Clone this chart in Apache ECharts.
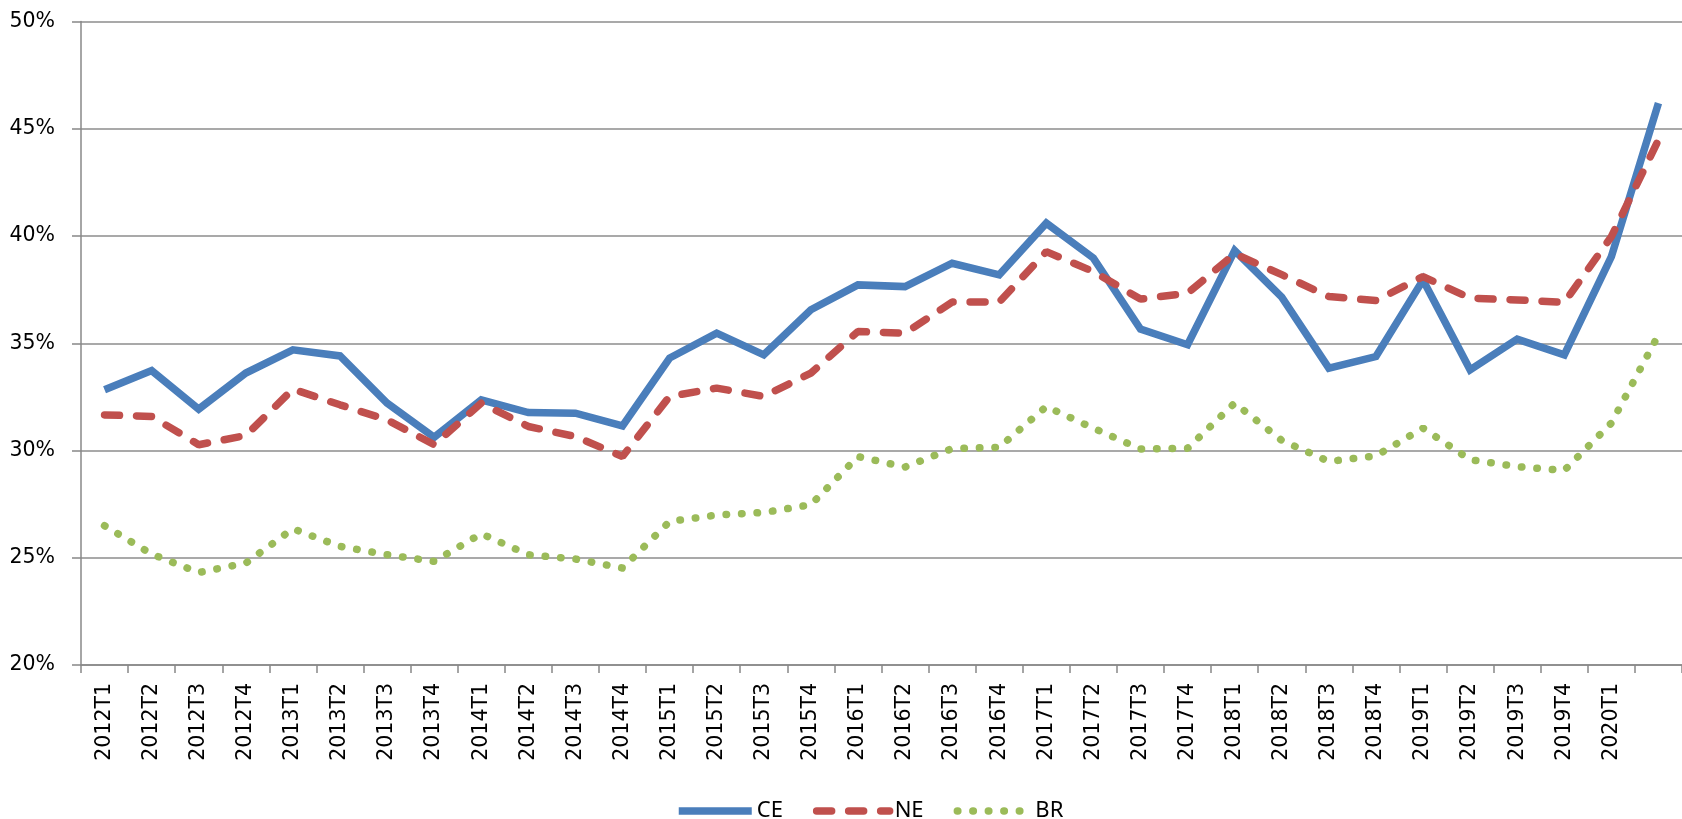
<!DOCTYPE html>
<html>
<head>
<meta charset="utf-8">
<script src="https://cdn.jsdelivr.net/npm/echarts@6/dist/echarts.min.js"></script>
<style>
html,body{margin:0;padding:0;background:#fff;}
#c{width:1682px;height:819px;}
</style>
</head>
<body>
<div id="c"></div>
<script>
const categories = ['2012T1','2012T2','2012T3','2012T4','2013T1','2013T2','2013T3','2013T4',
  '2014T1','2014T2','2014T3','2014T4','2015T1','2015T2','2015T3','2015T4',
  '2016T1','2016T2','2016T3','2016T4','2017T1','2017T2','2017T3','2017T4',
  '2018T1','2018T2','2018T3','2018T4','2019T1','2019T2','2019T3','2019T4',
  '2020T1','2020T2'];
const ceValues = [32.83,33.73,31.93,33.61,34.69,34.41,32.21,30.62,
  32.36,31.77,31.74,31.15,34.31,35.47,34.46,36.56,
  37.72,37.64,38.73,38.19,40.60,38.97,35.66,34.93,
  39.32,37.15,33.84,34.38,37.95,33.76,35.19,34.46,
  39.04,46.19];
const neValues = [31.66,31.59,30.27,30.70,32.86,32.13,31.43,30.27,
  32.21,31.12,30.65,29.72,32.52,32.91,32.52,33.61,
  35.55,35.47,36.92,36.92,39.27,38.34,37.06,37.33,
  39.17,38.20,37.18,36.99,38.11,37.10,37.02,36.90,
  39.97,44.48];
const brValues = [26.49,25.17,24.31,24.75,26.35,25.53,25.14,24.83,
  26.12,25.14,24.94,24.52,26.69,26.99,27.11,27.47,
  29.72,29.23,30.09,30.15,32.05,31.04,30.07,30.10,
  32.21,30.47,29.49,29.75,31.04,29.57,29.25,29.07,
  31.28,35.39];
const yTicks = {min: 20, max: 50, step: 5};

const chart = echarts.init(document.getElementById('c'), null, {renderer: 'canvas'});
const font = 'DejaVu Sans';
chart.setOption({
  animation: false,
  backgroundColor: '#ffffff',
  grid: {left: 81, top: 21.5, right: -9, bottom: 154, containLabel: false},
  legend: {
    left: 670, top: 795,
    itemWidth: 73, itemHeight: 20, itemGap: 30,
    itemStyle: {opacity: 0},
    lineStyle: {width: 7.5},
    textStyle: {fontFamily: '"Noto Sans", sans-serif', fontSize: 22, color: '#000'},
    data: ['CE','NE','BR']
  },
  xAxis: {
    type: 'category',
    data: categories,
    boundaryGap: true,
    axisLine: {lineStyle: {color: '#888', width: 1.5}},
    axisTick: {show: true, interval: 0, length: 8, lineStyle: {color: '#888', width: 1.5}},
    axisLabel: {
      interval: 0, rotate: 90, margin: 18,
      fontFamily: font, fontSize: 20.5, color: '#000',
      formatter: function (v, i) { return i === categories.length - 1 ? '' : v; }
    },
    splitLine: {show: false}
  },
  yAxis: {
    type: 'value',
    min: yTicks.min, max: yTicks.max, interval: yTicks.step,
    axisLine: {show: true, lineStyle: {color: '#888', width: 1.5}},
    axisTick: {show: true, length: 9, lineStyle: {color: '#888', width: 1.5}},
    axisLabel: {margin: 26, fontFamily: font, fontSize: 20.5, color: '#000', formatter: '{value}%'},
    splitLine: {show: true, lineStyle: {color: '#8c8c8c', width: 1.5}}
  },
  series: [
    {name: 'CE', type: 'line', data: ceValues, symbol: 'none', showSymbol: false,
      color: '#4a7ebb',
      lineStyle: {color: '#4a7ebb', width: 7.5, join: 'miter'}},
    {name: 'NE', type: 'line', data: neValues, symbol: 'none', showSymbol: false,
      color: '#c0504d',
      lineStyle: {color: '#c0504d', width: 7.5, type: [15, 17], cap: 'round'}},
    {name: 'BR', type: 'line', data: brValues, symbol: 'none', showSymbol: false,
      color: '#9bbb59',
      lineStyle: {color: '#9bbb59', width: 7.5, type: [0.5, 15], cap: 'round'}}
  ]
});
</script>
</body>
</html>
